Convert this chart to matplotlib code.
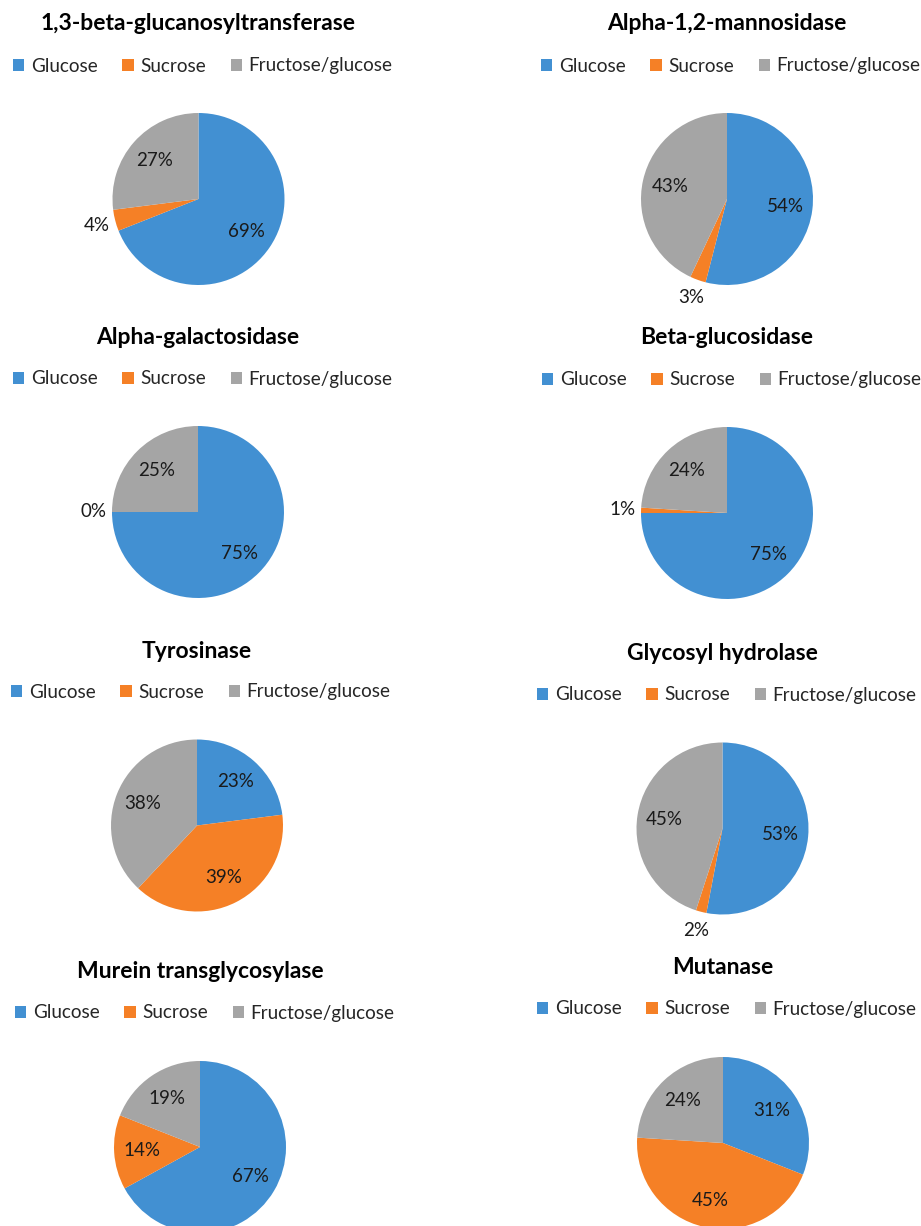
import matplotlib
matplotlib.use("Agg")
import matplotlib.pyplot as plt
from matplotlib.patches import Patch
import numpy as np

plt.rcParams['font.family'] = ['Lato', 'DejaVu Sans']

# data
categories = ["Glucose", "Sucrose", "Fructose/glucose"]
colors = ["#4290D2", "#F58026", "#A5A5A5"]

titles = ["1,3-beta-glucanosyltransferase", "Alpha-1,2-mannosidase",
          "Alpha-galactosidase", "Beta-glucosidase",
          "Tyrosinase", "Glycosyl hydrolase",
          "Murein transglycosylase", "Mutanase"]
glucose = [69, 54, 75, 75, 23, 53, 67, 31]
sucrose = [4, 3, 0, 1, 39, 2, 14, 45]
fructose_glucose = [27, 43, 25, 24, 38, 45, 19, 24]

# layout in pixels (from top-left): title x/y, legend y, legend left, pie centre x/y
W, H = 921, 1226
title_pos = [(198, 24), (727, 24), (198, 337), (727, 337),
             (197, 651), (722, 653), (200, 971), (723, 967)]
legend_pos = [(13, 66), (541, 66), (13, 379), (542, 380),
              (11, 692), (537, 695), (15, 1013), (537, 1009)]
pie_pos = [(198.5, 199), (727, 199), (198, 512), (727, 513),
           (197, 825.5), (722.5, 828.5), (200, 1147), (723, 1143)]
R = 86

fig = plt.figure(figsize=(W / 100, H / 100), dpi=100)

handles = [Patch(facecolor=c, edgecolor='none') for c in colors]

for i in range(8):
    vals = [glucose[i], sucrose[i], fructose_glucose[i]]
    cx, cy = pie_pos[i]
    ax = fig.add_axes([(cx - R) / W, 1 - (cy + R) / H, 2 * R / W, 2 * R / H])
    wedges, _ = ax.pie(vals, colors=colors, startangle=90, counterclock=False,
                       radius=1, wedgeprops=dict(linewidth=0))
    ax.set_xlim(-1, 1)
    ax.set_ylim(-1, 1)
    ax.set_aspect('equal')
    ax.axis('off')

    for w, v in zip(wedges, vals):
        mid = np.deg2rad((w.theta1 + w.theta2) / 2)
        r = 1.22 if v < 5 else 0.68
        ax.text(r * np.cos(mid), r * np.sin(mid), f"{v}%", ha='center', va='center',
                fontsize=13.5, color='#1a1a1a', clip_on=False)

    tx, ty = title_pos[i]
    fig.text(tx / W, 1 - ty / H, titles[i], ha='center', va='center',
             fontsize=16.5, fontweight='bold', color='black')

    lx, ly = legend_pos[i]
    ax.legend(handles, categories, loc='center left',
              bbox_to_anchor=(lx / W, 1 - ly / H), bbox_transform=fig.transFigure,
              ncol=3, frameon=False, borderpad=0, borderaxespad=0,
              handlelength=0.6, handleheight=0.6, handletextpad=0.35,
              columnspacing=1.3, fontsize=13.6, labelcolor='#262626')

fig.savefig("out.png", dpi=100)
